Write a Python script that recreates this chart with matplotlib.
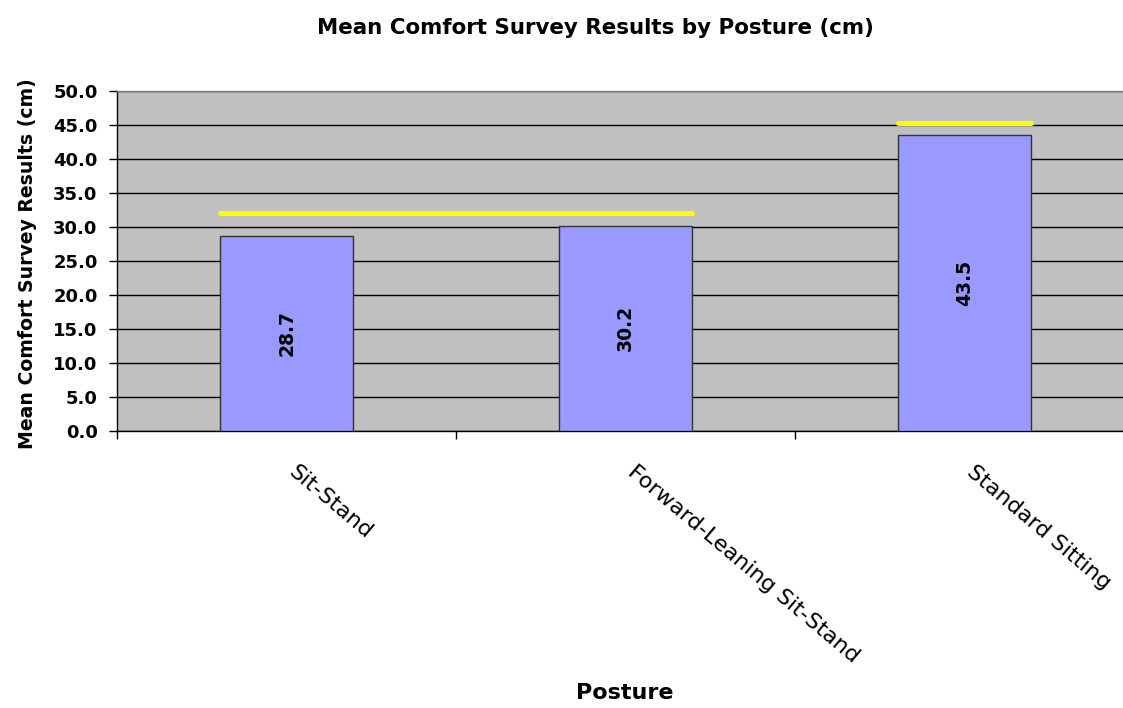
import matplotlib
matplotlib.use("Agg")
import matplotlib.pyplot as plt
import matplotlib.transforms as mtransforms
import numpy as np

plt.rcParams['font.family'] = ['DejaVu Sans']

categories = ["Sit-Stand", "Forward-Leaning Sit-Stand", "Standard Sitting"]
means = [28.7, 30.2, 43.5]
value_labels = ["28.7", "30.2", "43.5"]
# significance (homogeneous subset) markers: (first category, last category, height)
group_start = [0, 2]
group_end = [1, 2]
group_height = [32.0, 45.3]
yticks = [0, 5, 10, 15, 20, 25, 30, 35, 40, 45, 50]

fig = plt.figure(figsize=(11.23, 7.08), dpi=100)
ax = fig.add_axes([117/1123, (708-431)/708, (1134-117)/1123, 340/708])
ax.set_facecolor('#C0C0C0')

x = np.arange(len(categories))
width = 0.395
ax.bar(x, means, width=width, color='#9999FF', edgecolor='#333333', linewidth=1.0, zorder=3)

for xi, v, lab in zip(x, means, value_labels):
    ax.text(xi, v / 2, lab, rotation=90, ha='center', va='center',
            fontsize=13.5, fontweight='bold', color='black', zorder=4)

for s, e, h in zip(group_start, group_end, group_height):
    ax.plot([x[s] - width / 2, x[e] + width / 2], [h, h], color='#FFFF00',
            linewidth=3.6, solid_capstyle='round', zorder=5)

ax.set_ylim(0, 50)
ax.set_xlim(-0.5, len(categories) - 0.5)
ax.set_yticks(yticks)
ax.set_yticklabels([f"{t:.1f}" for t in yticks], fontsize=13, fontweight='bold')
ax.yaxis.grid(True, color='black', linewidth=1.0, zorder=1)
ax.set_axisbelow(True)

ax.set_xticks(np.arange(len(categories) + 1) - 0.5)
ax.set_xticklabels([])
ax.tick_params(axis='x', which='major', direction='out', length=6, width=1, color='black')
ax.tick_params(axis='y', direction='out', length=6, width=1, color='black', pad=8)

# category labels, rotated, hanging below the axis
trans = mtransforms.blended_transform_factory(ax.transData, ax.transAxes)
offset = mtransforms.ScaledTranslation(11/100, 0, fig.dpi_scale_trans)
for xi, cat in zip(x, categories):
    ax.text(xi, -31/340, cat, transform=trans + offset, rotation=-40,
            rotation_mode='anchor', ha='left', va='top', fontsize=16,
            clip_on=False)

for side in ['left', 'bottom']:
    ax.spines[side].set_color('black')
    ax.spines[side].set_linewidth(1.0)
for side in ['top', 'right']:
    ax.spines[side].set_color('#808080')
    ax.spines[side].set_linewidth(1.0)

fig.text(595/1123, 1 - 28/708, "Mean Comfort Survey Results by Posture (cm)",
         ha='center', va='center', fontsize=15.4, fontweight='bold')
fig.text(625/1123, 1 - 693/708, "Posture", ha='center', va='center',
         fontsize=16, fontweight='bold')
fig.text(28/1123, 1 - 264/708, "Mean Comfort Survey Results (cm)", ha='center',
         va='center', rotation=90, fontsize=13.6, fontweight='bold')

fig.savefig("out.png", dpi=100)
